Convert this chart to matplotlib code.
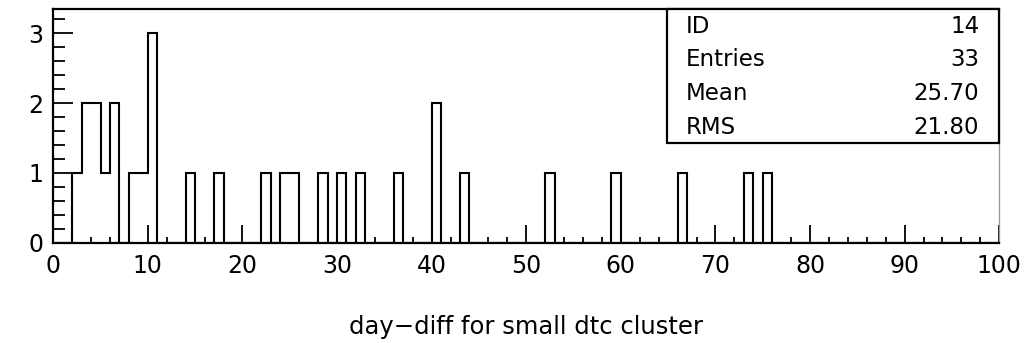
import numpy as np
import matplotlib
matplotlib.use("Agg")
import matplotlib.pyplot as plt
from matplotlib.patches import Rectangle

# filled bins (lower edge, count) of the day-diff histogram, bin width 1
bin_low = [2, 3, 4, 5, 6, 8, 9, 10, 14, 17, 22, 24, 25, 28, 30, 32,
           36, 40, 43, 52, 59, 66, 73, 75]
bin_count = [1, 2, 2, 1, 2, 1, 1, 3, 1, 1, 1, 1, 1, 1, 1, 1,
             1, 2, 1, 1, 1, 1, 1, 1]

stat_names = ["ID", "Entries", "Mean", "RMS"]
stat_values = ["14", "33", "25.70", "21.80"]

x_title = "day\u2212diff for small dtc cluster"

edges = np.arange(0, 101, 1)
counts = np.zeros(len(edges) - 1)
counts[np.array(bin_low)] = bin_count

plt.rcParams['font.family'] = ['DejaVu Sans']

fig = plt.figure(figsize=(10.24, 3.43), dpi=100)
ax = fig.add_axes([0.052, 0.2924, 0.9238, 0.6814])

ax.stairs(counts, edges, color='black', linewidth=1.5, baseline=0)

ax.set_xlim(0, 100)
ax.set_ylim(0, 3.35)
ax.set_xticks(np.arange(0, 101, 10))
ax.set_xticks(np.arange(0, 101, 2), minor=True)
ax.set_yticks([0, 1, 2, 3])
ax.set_yticks(np.arange(0, 3.35, 0.2), minor=True)

ax.tick_params(axis='x', which='major', direction='in', length=13, width=1.3,
               labelsize=17, pad=8)
ax.tick_params(axis='x', which='minor', direction='in', length=4.5, width=1.3)
ax.tick_params(axis='y', which='major', direction='in', length=14.5, width=1.3,
               labelsize=17, pad=7)
ax.tick_params(axis='y', which='minor', direction='in', length=8.5, width=1.3)
ax.tick_params(top=False, right=False, which='both')

for side in ['left', 'bottom', 'top']:
    ax.spines[side].set_linewidth(1.6)
ax.spines['right'].set_linewidth(1.0)
ax.spines['right'].set_color('#999999')

ax.set_xlabel(x_title, fontsize=17.5, va='center')
ax.xaxis.set_label_coords(0.5, -0.359)

# statistics box in the upper right corner
box_left, box_bottom = 0.649, 0.4253
ax.add_patch(Rectangle((box_left, box_bottom), 1 - box_left, 1 - box_bottom,
                       transform=ax.transAxes, facecolor='white',
                       edgecolor='black', linewidth=1.6, zorder=5,
                       clip_on=False))
row_y = [0.927, 0.782, 0.638, 0.495]
for name, val, y in zip(stat_names, stat_values, row_y):
    ax.text(0.669, y, name, transform=ax.transAxes, fontsize=16.5,
            ha='left', va='center', zorder=6)
    ax.text(0.979, y, val, transform=ax.transAxes, fontsize=16.5,
            ha='right', va='center', zorder=6)

fig.savefig("out.png", dpi=100)
